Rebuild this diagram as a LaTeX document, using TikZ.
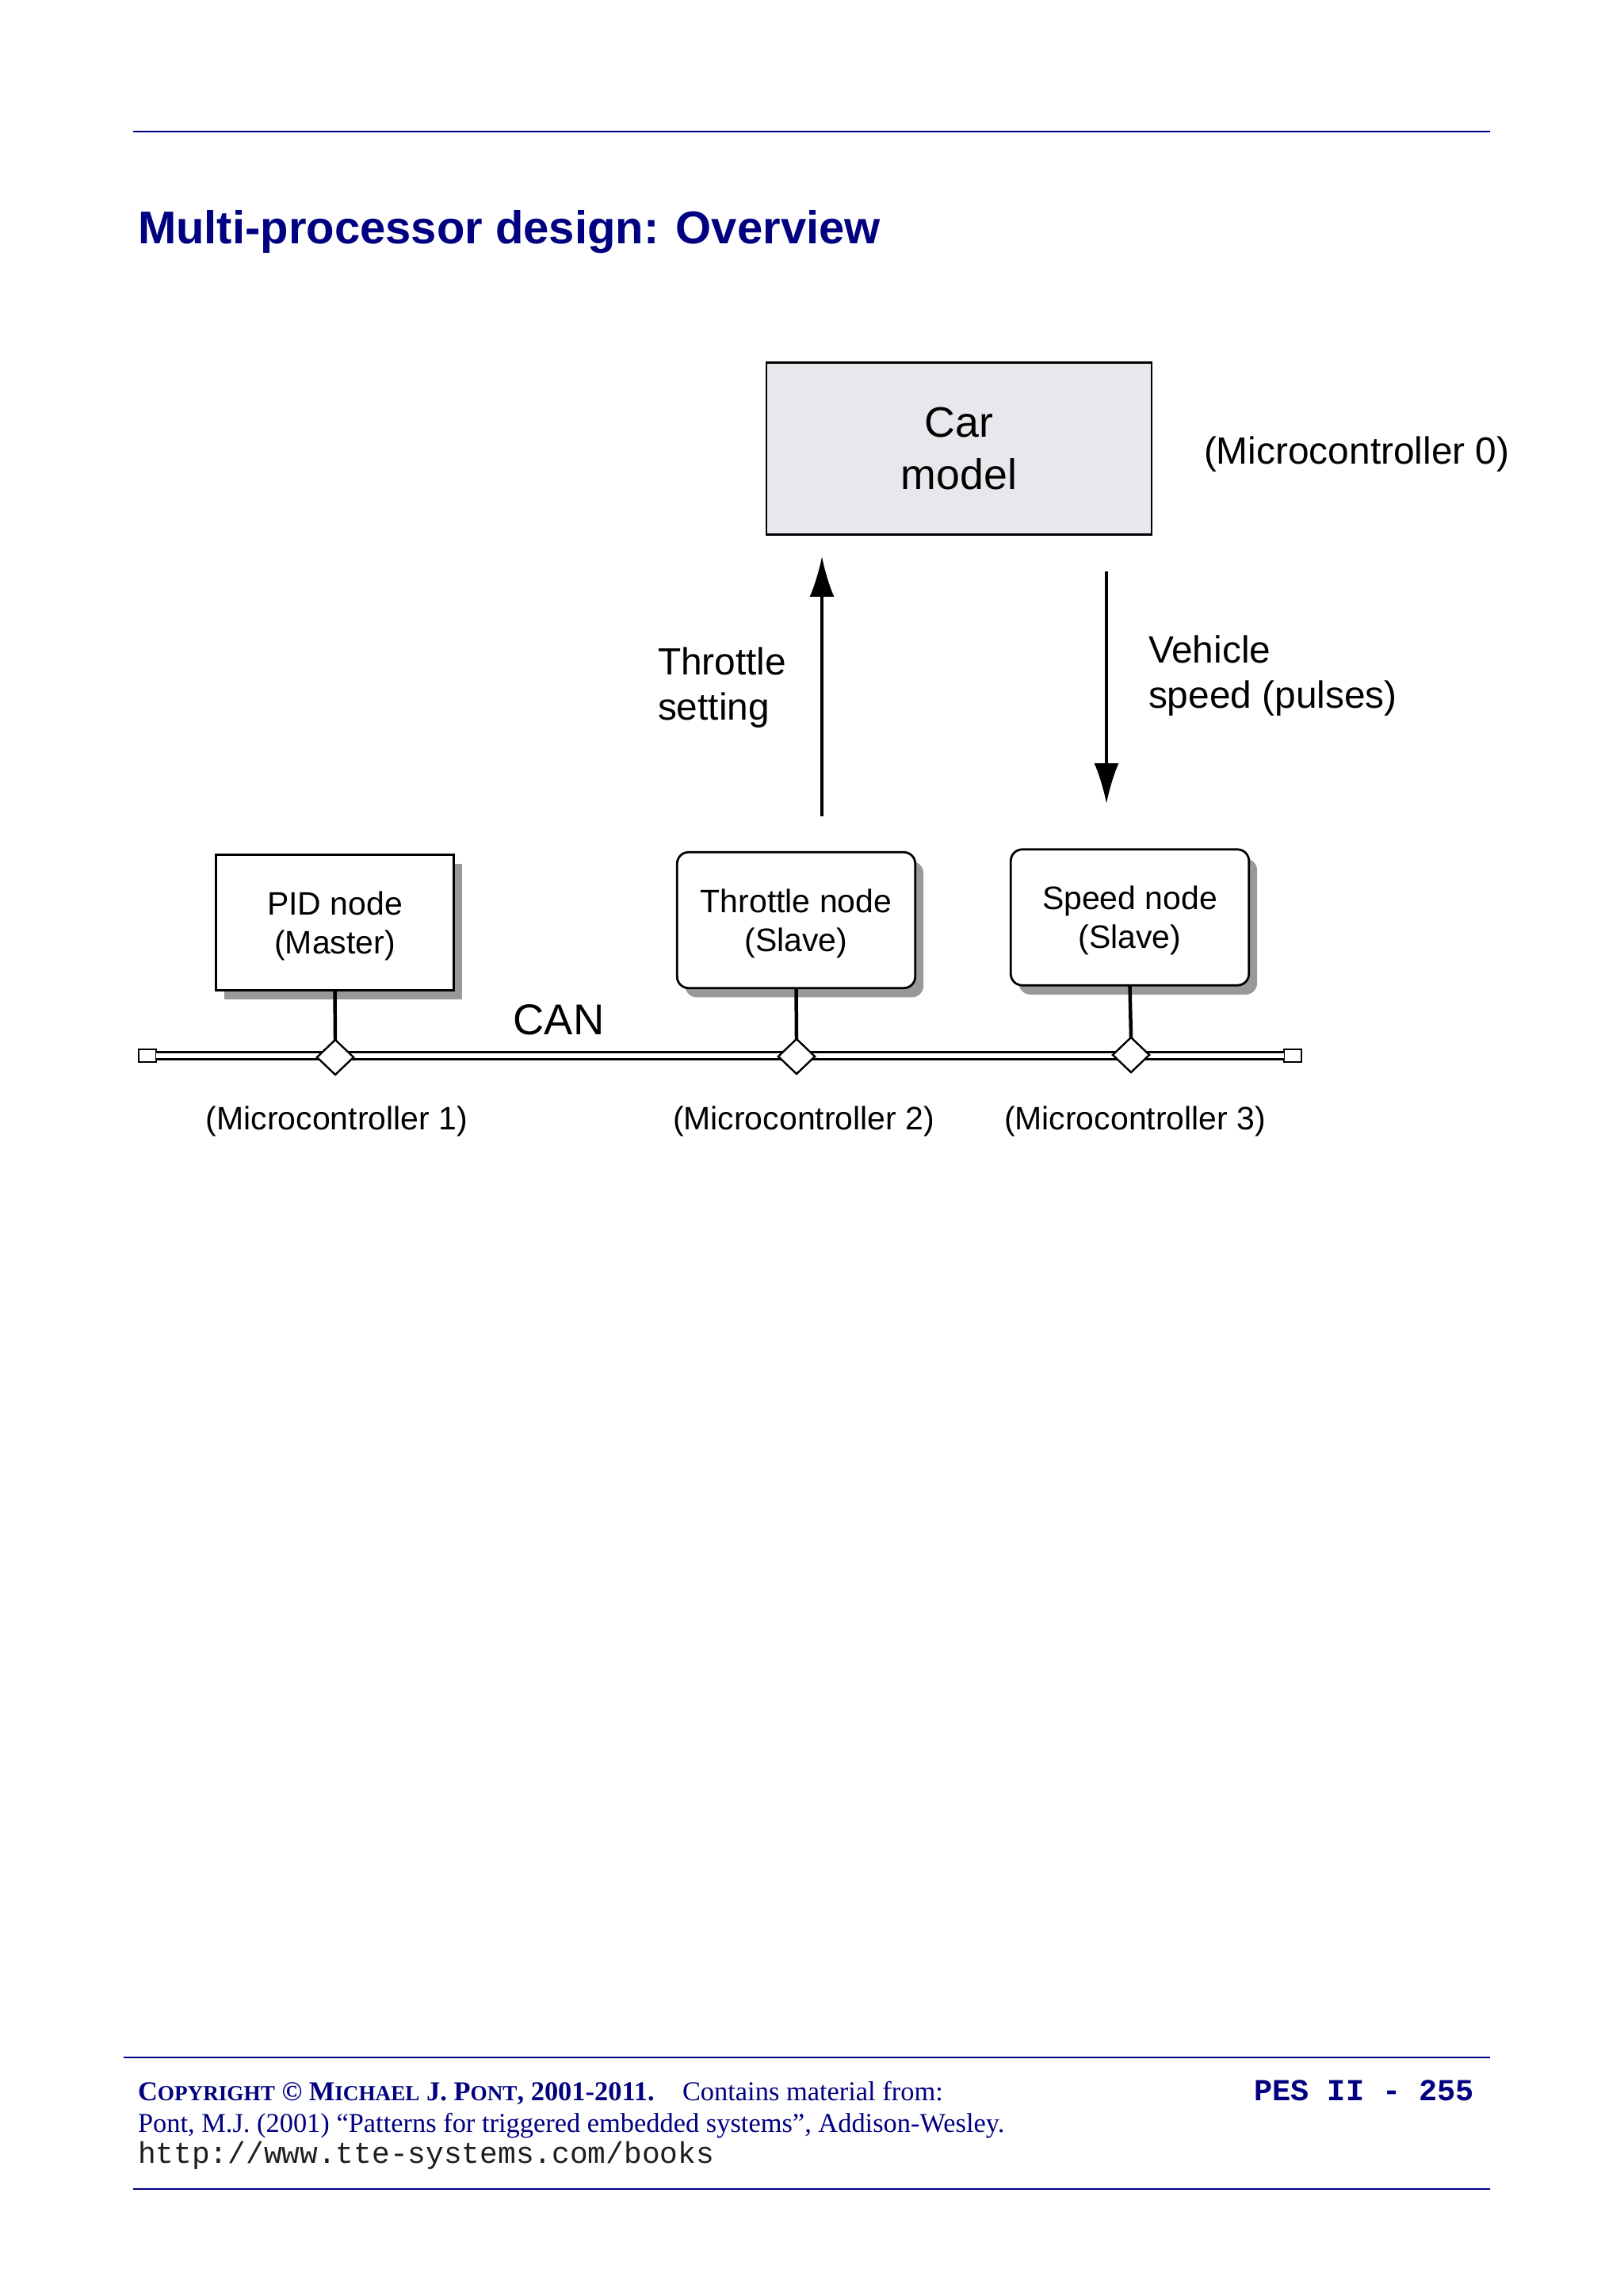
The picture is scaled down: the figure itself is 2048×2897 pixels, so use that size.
\documentclass[tikz,border=0pt]{standalone}
\usepackage{fontspec}
\setmainfont{Liberation Sans}
\newfontfamily\seriffont{Liberation Serif}
\newfontfamily\monofont{Liberation Mono}
\usetikzlibrary{arrows.meta,shapes.geometric,shadows}
\definecolor{navy}{RGB}{0,0,128}
\definecolor{carfill}{RGB}{233,231,235}
\definecolor{shadowgray}{RGB}{153,153,153}
\definecolor{darktext}{RGB}{30,30,30}
\newcommand{\smc}[1]{{\fontsize{7.9}{9}\selectfont #1}}
\newcommand{\boxstrut}{\rule{0pt}{11pt}}
\begin{document}
\begin{tikzpicture}[x=0.29053pt,y=-0.29053pt,
  every node/.style={inner sep=0pt, outer sep=0pt},
  rule/.style={draw=navy, line width=0.85pt},
  mcubox/.style={draw=black, line width=0.8pt, fill=white, align=center,
    minimum width=87.3pt, minimum height=49.8pt,
    font=\fontsize{11.9}{14.2}\selectfont,
    drop shadow={shadow xshift=3pt, shadow yshift=-3.4pt, fill=shadowgray, opacity=1}},
  roundbox/.style={mcubox, rounded corners=4.2pt},
  tap/.style={diamond, draw=black, fill=white, line width=0.7pt,
    minimum width=13.4pt, minimum height=12.8pt},
  buscap/.style={rectangle, draw=black, fill=white, line width=0.7pt,
    minimum width=6.4pt, minimum height=4.6pt},
  bus/.style={draw=black, line width=0.8pt, double=white, double distance=1.7pt},
  stem/.style={draw=black, line width=1.3pt},
  flow/.style={draw=black, line width=0.9pt, -{Latex[length=14.8pt, width=9pt]}},
  lbl/.style={font=\fontsize{11.9}{14.2}\selectfont},
  biglbl/.style={font=\fontsize{13.9}{16.6}\selectfont, align=left}
]
\useasboundingbox (0,0) rectangle (2048,2897);
\fill[white] (0,0) rectangle (2048,2897);

% header
\coordinate (hl) at (168,166);
\coordinate (hr) at (1880,166);
\draw[rule] (hl) -- (hr);
\node[anchor=base west, text=navy, font=\bfseries\fontsize{16.85}{20}\selectfont] (title) at (174,308)
  {Multi-processor design: Overview};

% car model
\node[draw=black, line width=0.85pt, fill=carfill, minimum width=141.2pt,
  minimum height=63.3pt, align=center, font=\fontsize{15.6}{19.4}\selectfont]
  (car) at (1210,566) {Car\\model};
\node[anchor=west, font=\fontsize{13.9}{16.6}\selectfont] (mc0) at (1519,573) {(Microcontroller 0)};

% arrows
\coordinate (upS) at (1037,1030);
\coordinate (upE) at (1037,702);
\draw[flow] (upS) -- (upE);
\coordinate (dnS) at (1396,721);
\coordinate (dnE) at (1396,1014);
\draw[flow] (dnS) -- (dnE);
\node[biglbl, anchor=west] (thr) at (830,867.5) {Throttle\\setting};
\node[biglbl, anchor=west] (veh) at (1449,852.5) {Vehicle\\speed (pulses)};

% nodes
\node[mcubox] (pid) at (422.5,1164) {\boxstrut PID node\\(Master)};
\node[roundbox] (thn) at (1004.5,1161) {\boxstrut Throttle node\\(Slave)};
\node[roundbox] (spn) at (1425.5,1157.5) {\boxstrut Speed node\\(Slave)};

% bus
\node[buscap] (capL) at (186,1332) {};
\node[buscap] (capR) at (1631,1332) {};
\draw[bus] (capL.east) -- (capR.west);
\node[tap] (d1) at (423,1334) {};
\node[tap] (d2) at (1005,1333) {};
\node[tap] (d3) at (1427,1331) {};
\draw[stem] (pid.south) -- (d1.north);
\draw[stem] (thn.south) -- (d2.north);
\draw[stem] (spn.south) -- (d3.north);
\node[anchor=base, font=\fontsize{15.8}{19}\selectfont] (can) at (705,1305) {CAN};

\node[lbl, anchor=base] (mc1) at (425,1425) {(Microcontroller 1)};
\node[lbl, anchor=base] (mc2) at (1014,1425) {(Microcontroller 2)};
\node[lbl, anchor=base] (mc3) at (1432,1425) {(Microcontroller 3)};

% footer
\coordinate (fl1) at (156,2596);
\coordinate (fr1) at (1880,2596);
\draw[rule] (fl1) -- (fr1);
\coordinate (fl2) at (168,2762);
\coordinate (fr2) at (1880,2762);
\draw[rule] (fl2) -- (fr2);
\node[anchor=base west, text=navy, font=\seriffont\bfseries\fontsize{10}{12}\selectfont] (copy) at (174,2650)
  {C\smc{OPYRIGHT} \copyright{} M\smc{ICHAEL} J. P\smc{ONT}, 2001-2011.};
\node[anchor=base west, text=navy, font=\seriffont\fontsize{10}{12}\selectfont] (cont) at (861,2650)
  {Contains material from:};
\node[anchor=base west, text=navy, font=\seriffont\fontsize{10}{12}\selectfont] (ref) at (174,2690)
  {Pont, M.J. (2001) “Patterns for triggered embedded systems”, Addison-Wesley.};
\node[anchor=base west, text=darktext, font=\monofont\fontsize{11}{13}\selectfont] (url) at (174,2729)
  {http://www.tte-systems.com/books};
\node[anchor=base east, text=navy, font=\monofont\bfseries\fontsize{11.2}{13}\selectfont] (pes) at (1860,2650)
  {PES II - 255};
\end{tikzpicture}
\end{document}
